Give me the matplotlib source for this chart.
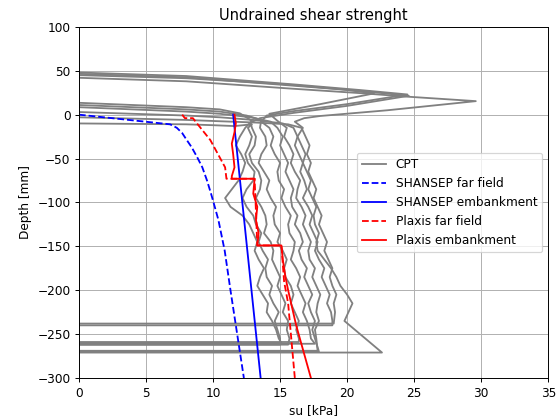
import matplotlib
matplotlib.use("Agg")
import matplotlib.pyplot as plt

# depths (mm) of the main body of every CPT trace
mid_depth = [-15, -25, -35, -45, -55, -65, -75, -85, -95, -105, -115, -125, -135, -145, -155,
             -165, -175, -185, -195, -205, -215, -225, -235, -245, -255]

# CPT traces (su [kPa], depth [mm])
cpt1_su = [0, 8, 16, 21, 24.5, 29.6, 23, 18, 16.8, 16.1,
           16.7, 16.3, 16.6, 16.9, 16.7, 17.0, 17.3, 17.1, 17.4, 17.7, 17.5, 17.6, 17.9, 17.7, 17.8,
           18.3, 18.8, 19.2, 19.5, 20.0, 20.4, 20.1, 19.8,
           21.2, 22.6, 0]
cpt1_z = [42, 38, 29.5, 24.5, 20.5, 15.4, 5, -1.5, -4, -8] + mid_depth[:23] + [-253, -271, -271]

cpt2_su = [0, 8, 16, 21, 24.5, 20, 16, 14.0, 13.6,
           14.2, 14.5, 14.3, 14.6, 15.0, 14.8, 14.9, 15.3, 15.1, 15.4, 15.8, 15.6, 15.7, 16.1, 16.0,
           15.8, 16.2, 16.5, 16.3, 16.6, 16.9, 16.7, 17.0, 17.2, 17.3,
           17.6, 0]
cpt2_z = [48, 44, 34.5, 28, 23, 12, 4, -1, -8] + mid_depth + [-261, -261]

cpt3_su = [0, 8, 16, 21, 24.6, 20, 16, 13.5, 12.8,
           12.9, 13.2, 13.1, 12.7, 12.9, 13.4, 13.6, 13.5, 13.2, 13.6, 13.9, 14.0, 13.8, 14.3, 14.5,
           14.4, 14.7, 15.0, 14.8, 15.1, 15.4, 15.2, 15.6, 15.5, 15.7,
           15.6, 0]
cpt3_z = [46.5, 42.5, 33, 27, 21.5, 10, 2, -4, -9] + mid_depth + [-262, -262]

cpt4_su = [0, 8, 15, 19.5, 22.0, 18, 14.2, 14.8,
           15.5, 15.3, 15.7, 16.0, 15.8, 16.1, 16.5, 16.3, 16.2, 16.6, 16.9, 16.7, 17.0, 17.3, 17.1,
           17.2, 17.6, 17.4, 17.7, 18.0, 17.8, 17.7, 17.9, 17.6, 17.7,
           17.8, 0]
cpt4_z = [45, 41.5, 35, 29, 24.2, 12, 1, -7] + mid_depth + [-269, -269]

cpt5_su = [0, 4, 8, 10.5, 12.0, 12.9,
           12.4, 12.0, 11.7, 12.1, 12.4, 12.2, 11.9, 11.4, 10.9, 11.3, 12.2, 12.7, 13.0, 13.3, 13.1,
           13.4, 13.8, 13.5, 13.3, 13.7, 14.1, 14.0, 14.4, 14.7, 14.9,
           15.1, 0]
cpt5_z = [13.5, 11, 8.5, 6, 1.5, -7] + mid_depth + [-260, -260]

cpt6_su = [0, 4, 8, 10.5, 12.5, 13.6,
           13.5, 13.9, 14.0, 13.6, 13.4, 13.8, 14.2, 14.0, 14.3, 14.7, 14.5, 14.6, 15.0, 14.8, 15.2,
           15.5, 15.3, 15.4, 15.8, 16.0, 15.8, 16.1, 16.4, 16.2, 16.4,
           16.4, 0]
cpt6_z = [11, 8.5, 6, 3.5, -1, -6] + mid_depth + [-259, -259]

cpt7_su = [0, 4, 8, 10.5, 12.8, 14.3,
           14.8, 15.2, 15.0, 15.3, 15.6, 15.4, 15.7, 16.0, 15.8, 15.9, 16.3, 16.1, 16.5, 16.7, 16.4,
           16.6, 17.0, 16.8, 17.1, 17.4, 17.1, 17.3, 17.6, 17.4, 17.6,
           17.9, 0]
cpt7_z = [8.5, 6, 3.5, 1, -3, -8] + mid_depth + [-270, -270]

cpt8_su = [0, 4, 8, 10.5, 13.0, 15.2,
           16.0, 16.3, 16.1, 16.4, 16.7, 16.5, 16.8, 17.0, 16.7, 17.1, 17.4, 17.2, 17.5, 17.8, 17.6,
           17.9, 18.3, 18.1, 18.4, 18.7, 18.5, 18.8, 18.9,
           18.9, 0]
cpt8_z = [3, 1, -1, -3, -6, -10] + mid_depth[:23] + [-240, -240]

cpt9_su = [0, 4, 8, 10.5, 13.2, 15.6,
           16.6, 16.9, 17.2, 17.0, 17.3, 17.1, 17.4, 17.7, 17.5, 17.8, 18.1, 17.9, 18.2, 18.5, 18.3,
           18.6, 18.9, 18.7, 18.9, 19.2, 19.0, 19.1,
           19.0, 0]
cpt9_z = [-3, -4.5, -6, -7.5, -9, -11] + mid_depth[:22] + [-238, -238]

cpt10_su = [0, 4, 8, 10.0, 11.6, 12.9,
            12.6, 12.9, 12.7, 12.4, 12.6, 13.1, 13.0, 12.5, 12.2, 12.5, 13.0, 13.2, 13.6, 13.4, 13.7,
            14.1, 13.9, 14.0, 14.4, 14.2, 14.5, 14.9, 14.6, 14.8, 15.0,
            15.0, 0]
cpt10_z = [-10, -10.5, -11, -12, -13, -11] + mid_depth + [-262, -262]

# SHANSEP lines
shansep_ff_su = [0, 6.8, 7.3, 7.7, 8.0, 8.4, 8.8, 9.2, 9.55, 9.85, 10.0, 10.4, 10.87, 11.3, 11.8, 12.3]
shansep_ff_z = [0, -11, -15, -21, -28, -37, -48, -60, -75, -90, -98, -120, -155, -200, -250, -300]
shansep_emb_su = [11.5, 13.55]
shansep_emb_z = [0, -300]

# Plaxis lines
plaxis_ff_su = [7.7, 7.9, 8.5, 8.7, 9.8, 10.9, 11.0, 13.1, 13.2, 13.3, 15.1, 15.3, 15.6, 16.1]
plaxis_ff_z = [0, -4, -4, -8, -29, -60, -73, -73, -110, -149, -149, -190, -215, -300]
plaxis_emb_su = [11.6, 11.7, 11.6, 11.4, 11.5, 11.6, 11.4, 11.4, 13.1, 13.0, 13.3, 13.2, 13.4,
                 13.3, 15.1, 15.2, 15.4, 15.6, 16.2, 17.3]
plaxis_emb_z = [0, -10, -20, -33, -45, -60, -70, -73, -73, -90, -105, -120, -135, -149,
                -149, -165, -185, -200, -240, -300]

cpt_traces = [(cpt1_su, cpt1_z), (cpt2_su, cpt2_z), (cpt3_su, cpt3_z), (cpt4_su, cpt4_z),
              (cpt5_su, cpt5_z), (cpt6_su, cpt6_z), (cpt7_su, cpt7_z), (cpt8_su, cpt8_z),
              (cpt9_su, cpt9_z), (cpt10_su, cpt10_z)]

fig = plt.figure(figsize=(6.4, 4.8), dpi=87.5)
ax = fig.add_subplot(111)
fig.subplots_adjust(left=0.141, right=0.979, top=0.936, bottom=0.100)

for i, (su, z) in enumerate(cpt_traces):
    ax.plot(su, z, color='gray', lw=1.5, label='CPT' if i == 0 else None)

ax.plot(shansep_ff_su, shansep_ff_z, 'b--', lw=1.5, label='SHANSEP far field')
ax.plot(shansep_emb_su, shansep_emb_z, 'b-', lw=1.5, label='SHANSEP embankment')
ax.plot(plaxis_ff_su, plaxis_ff_z, 'r--', lw=1.5, label='Plaxis far field')
ax.plot(plaxis_emb_su, plaxis_emb_z, 'r-', lw=1.5, label='Plaxis embankment')

ax.set_xlim(0, 35)
ax.set_ylim(-300, 100)
ax.set_xticks(range(0, 36, 5))
ax.set_yticks(range(-300, 101, 50))
ax.grid(True)
ax.set_title('Undrained shear strenght')
ax.set_xlabel('su [kPa]')
ax.set_ylabel('Depth [mm]')
ax.legend(loc='center right')

fig.savefig('out.png', dpi=87.5)
